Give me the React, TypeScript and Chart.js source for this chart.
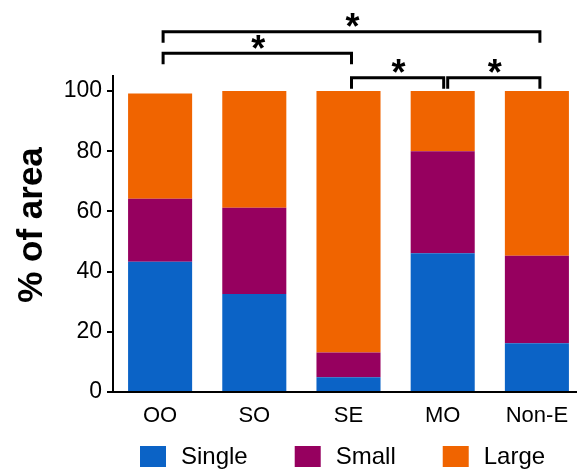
import React, { useEffect, useRef } from "react";
import { Chart, registerables } from "chart.js";

Chart.register(...registerables);

const FONT = "'Liberation Sans', Arial, Helvetica, sans-serif";

const categories = ["OO", "SO", "SE", "MO", "Non-E"];
const seriesNames = ["Single", "Small", "Large"];
const singleValues = [43.3, 32.6, 4.9, 46.1, 16.2];
const smallValues = [20.9, 28.6, 8.2, 33.9, 29.1];
const largeValues = [35.0, 38.8, 86.9, 20.0, 54.7];
const seriesColors = ["#0B63C6", "#96005F", "#F06400"];
const yTickValues = [0, 20, 40, 60, 80, 100];
const yTitle = "% of area";

// significance brackets: category indices and height in axis units
const bracketFrom = [0, 0, 2, 3];
const bracketTo = [4, 2, 3, 4];
const bracketLevel = [119.7, 112.6, 104.4, 104.4];
const bracketLabel = ["*", "*", "*", "*"];

const annotationPlugin = {
  id: "annotations",
  afterDraw(chart: any) {
    const ctx: CanvasRenderingContext2D = chart.ctx;
    const xs = chart.scales.x;
    const ys = chart.scales.y;
    ctx.save();

    // brackets
    ctx.strokeStyle = "#000";
    ctx.fillStyle = "#000";
    ctx.lineWidth = 3;
    ctx.lineJoin = "miter";
    ctx.lineCap = "butt";
    for (let i = 0; i < bracketFrom.length; i++) {
      let shareLeft = false;
      let shareRight = false;
      for (let j = 0; j < bracketFrom.length; j++) {
        if (j === i || bracketLevel[j] !== bracketLevel[i]) continue;
        if (bracketTo[j] === bracketFrom[i]) shareLeft = true;
        if (bracketFrom[j] === bracketTo[i]) shareRight = true;
      }
      const x1 = xs.getPixelForValue(bracketFrom[i]) + 3 + (shareLeft ? 2 : 0);
      const x2 = xs.getPixelForValue(bracketTo[i]) + 3 - (shareRight ? 2 : 0);
      const yy = ys.getPixelForValue(bracketLevel[i]);
      ctx.beginPath();
      ctx.moveTo(x1, yy + 11);
      ctx.lineTo(x1, yy);
      ctx.lineTo(x2, yy);
      ctx.lineTo(x2, yy + 11);
      ctx.stroke();
      const fs = 36;
      ctx.font = `bold ${fs}px ${FONT}`;
      ctx.textAlign = "center";
      ctx.textBaseline = "alphabetic";
      ctx.fillText(bracketLabel[i], (x1 + x2) / 2 + 1, yy - 13 + 0.57 * fs);
    }

    // y axis title
    ctx.save();
    ctx.fillStyle = "#000";
    ctx.font = `bold 35px ${FONT}`;
    ctx.textAlign = "center";
    ctx.textBaseline = "alphabetic";
    ctx.translate(42, 225);
    ctx.rotate(-Math.PI / 2);
    ctx.fillText(yTitle, 0, 0);
    ctx.restore();

    // legend
    let lx = 140;
    const ly = 446;
    ctx.font = `24px ${FONT}`;
    ctx.textAlign = "left";
    ctx.textBaseline = "alphabetic";
    chart.data.datasets.forEach((ds: any) => {
      ctx.fillStyle = ds.backgroundColor;
      ctx.fillRect(lx, ly, 26, 21);
      ctx.fillStyle = "#000";
      ctx.fillText(ds.label, lx + 41, 464);
      lx += 41 + ctx.measureText(ds.label).width + 47;
    });

    ctx.restore();
  },
};

export default function App() {
  const canvasRef = useRef<HTMLCanvasElement | null>(null);

  useEffect(() => {
    if (!canvasRef.current) return;
    Chart.defaults.font.family = FONT;
    Chart.defaults.color = "#000";
    const valueSets = [singleValues, smallValues, largeValues];
    const chart = new Chart(canvasRef.current, {
      type: "bar",
      data: {
        labels: categories,
        datasets: seriesNames.map((name, i) => ({
          label: name,
          data: valueSets[i],
          backgroundColor: seriesColors[i],
          borderColor: seriesColors[i],
          borderWidth: 0,
          barPercentage: 0.68,
          categoryPercentage: 1.0,
        })),
      },
      options: {
        animation: false,
        responsive: false,
        maintainAspectRatio: false,
        devicePixelRatio: 1,
        layout: { padding: { top: 76, left: 0, right: 0, bottom: 38 } },
        plugins: {
          legend: { display: false },
          tooltip: { enabled: false },
          title: { display: false },
        },
        scales: {
          x: {
            stacked: true,
            grid: { display: false },
            border: { display: true, color: "#000", width: 2 },
            ticks: {
              color: "#000",
              font: { family: FONT, size: 22 },
              padding: 3,
              maxRotation: 0,
              autoSkip: false,
            },
            afterFit: (s: any) => {
              s.height = 40;
            },
          },
          y: {
            stacked: true,
            min: 0,
            max: 105,
            afterBuildTicks: (s: any) => {
              s.ticks = yTickValues.map((v) => ({ value: v }));
            },
            afterFit: (s: any) => {
              s.width = 113;
            },
            grid: {
              display: true,
              drawOnChartArea: false,
              drawTicks: true,
              tickLength: 6,
              color: "#000",
              lineWidth: 2,
            },
            border: { display: true, color: "#000", width: 2 },
            ticks: {
              color: "#000",
              font: { family: FONT, size: 23 },
              padding: 5,
            },
          },
        },
      },
      plugins: [annotationPlugin],
    } as any);
    return () => chart.destroy();
  }, []);

  return (
    <div
      style={{
        position: "absolute",
        left: 0,
        top: 0,
        width: 577,
        height: 470,
        overflow: "hidden",
        background: "#fff",
      }}
    >
      <canvas ref={canvasRef} width={584} height={470} style={{ display: "block" }} />
    </div>
  );
}
